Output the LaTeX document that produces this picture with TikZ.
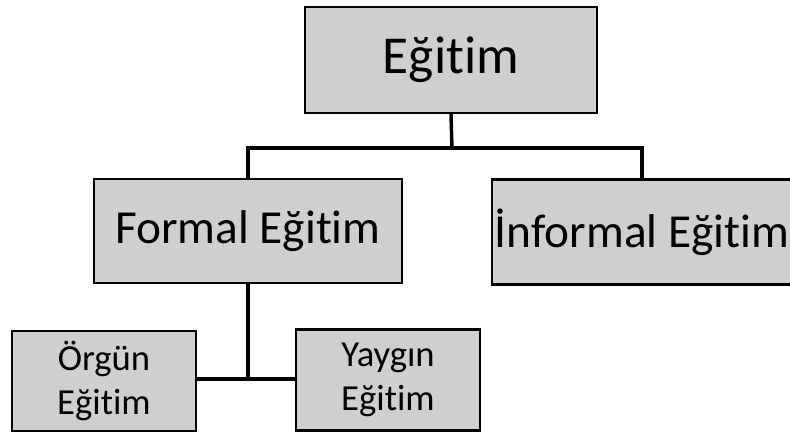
\documentclass[tikz,border=0pt]{standalone}
\usepackage{fontspec}
\setmainfont{Carlito}[RawFeature={-liga}]
\definecolor{boxgray}{HTML}{D0CECE}
\tikzset{
  unit/.style = {draw = black, line width = 1.8pt, fill = boxgray, inner sep = 0pt},
  link/.style = {line width = 2.6pt}
}
\begin{document}
\begin{tikzpicture}[x = .75pt, y = -.75pt]
    \useasboundingbox (0,0) rectangle (790,432);
    % boxes
    \node [unit, minimum width = 292*.75pt, minimum height = 106*.75pt, font = \fontsize{40}{48}\selectfont] (egitim) at (451,60) {Eğitim};
    \node [unit, minimum width = 308*.75pt, minimum height = 104*.75pt, font = \fontsize{35.5}{43}\selectfont] (formal) at (248,231) {Formal Eğitim};
    \node [unit, minimum width = 300*.75pt, minimum height = 105*.75pt, font = \fontsize{35.5}{43}\selectfont] (informal) at (642,232) {İnformal Eğitim};
    \node [unit, minimum width = 184*.75pt, minimum height = 100*.75pt, align = center, font = \fontsize{27.5}{33}\selectfont] (orgun) at (104,381) {Örgün\\Eğitim};
    \node [unit, minimum width = 184*.75pt, minimum height = 101*.75pt, align = center, font = \fontsize{27.5}{33}\selectfont] (yaygin) at (388,380) {Yaygın\\Eğitim};
    % connectors
    \coordinate (split) at (452,148);
    \coordinate (subsplit) at (248,379);
    \draw [link] (egitim.south) -- (split);
    \draw [link] (formal.north) |- (split) -| (informal.north);
    \draw [link] (formal.south) -- (subsplit);
    \draw [link] (orgun.east |- subsplit) -- (yaygin.west |- subsplit);
\end{tikzpicture}
\end{document}
